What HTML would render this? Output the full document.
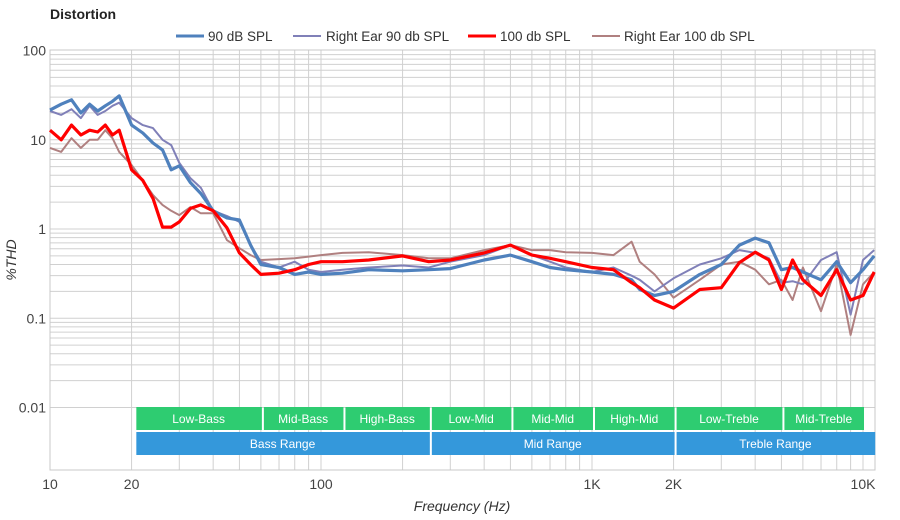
<!DOCTYPE html>
<html><head><meta charset="utf-8"><style>
body{margin:0;background:#fff;}
svg{display:block;font-family:"Liberation Sans",sans-serif;}
</style></head><body>
<svg id="chart" width="900" height="520"></svg>
<script>
const freqs=[10,11,12,13,14,15,16,17,18,20,22,24,26,28,30,33,36,40,45,50,55,60,70,80,90,100,120,150,200,250,300,400,500,600,700,800,1000,1200,1400,1500,1700,2000,2500,3000,3500,4000,4500,5000,5500,6000,7000,8000,9000,10000,11000];
const blue90=[21.5,25,28,20,25,21,24,27,31,14.6,11.9,9.2,7.7,4.6,5.1,3.3,2.5,1.6,1.33,1.26,0.66,0.40,0.37,0.31,0.33,0.31,0.32,0.35,0.34,0.35,0.36,0.45,0.51,0.43,0.37,0.35,0.33,0.31,0.27,0.21,0.18,0.20,0.31,0.40,0.66,0.79,0.70,0.35,0.37,0.33,0.27,0.43,0.25,0.35,0.5];
const right90=[21,19,22,17.5,24,19,21,24,26,17.5,14.6,13.5,10,8.7,5.5,3.7,2.9,1.6,1.4,1.2,0.66,0.43,0.37,0.43,0.35,0.33,0.35,0.37,0.39,0.37,0.43,0.51,0.66,0.51,0.43,0.37,0.33,0.37,0.30,0.27,0.20,0.28,0.40,0.47,0.58,0.54,0.47,0.25,0.26,0.24,0.45,0.55,0.11,0.45,0.58];
const red100=[12.8,10,14.6,11.3,12.8,12.2,14.6,11.3,12.8,4.6,3.5,2.2,1.05,1.05,1.2,1.7,1.86,1.6,1.03,0.54,0.40,0.31,0.32,0.35,0.40,0.43,0.43,0.45,0.5,0.43,0.45,0.54,0.66,0.51,0.47,0.43,0.37,0.35,0.25,0.22,0.16,0.13,0.21,0.22,0.42,0.55,0.45,0.21,0.45,0.27,0.18,0.35,0.16,0.18,0.33];
const right100=[8.1,7.3,10.4,8.1,10,10,12.8,10.4,7.3,5.2,3.5,2.4,1.86,1.6,1.43,1.76,1.5,1.5,0.75,0.61,0.51,0.45,0.46,0.47,0.49,0.51,0.54,0.55,0.51,0.47,0.47,0.58,0.66,0.58,0.58,0.55,0.54,0.51,0.72,0.43,0.31,0.17,0.27,0.40,0.43,0.35,0.24,0.27,0.16,0.37,0.12,0.40,0.065,0.24,0.33];
const yTicks=[100,10,1,0.1,0.01];
const yTickLabels=["100","10","1","0.1","0.01"];
const xTicks=[10,20,100,1000,2000,10000];
const xTickLabels=["10","20","100","1K","2K","10K"];
const bandNames=["Low-Bass","Mid-Bass","High-Bass","Low-Mid","Mid-Mid","High-Mid","Low-Treble","Mid-Treble"];
const bandStarts=[20.3,60,120,250,500,1000,2000,5000];
const bandEnds=[60,120,250,500,1000,2000,5000,10000];
const rangeNames=["Bass Range","Mid Range","Treble Range"];
const rangeStarts=[20.3,250,2000];
const rangeEnds=[250,2000,11000];

const NS="http://www.w3.org/2000/svg";
const svg=document.getElementById('chart');
const L=50,R=875,T=50,B=470;
const xS=f=>50+271*Math.log10(f/10);
const yS=v=>229-89.25*Math.log10(v);
function mk(tag,attrs,parent){const e=document.createElementNS(NS,tag);for(const k in attrs)e.setAttribute(k,attrs[k]);(parent||svg).appendChild(e);return e;}

const grid=mk('g',{});


for(let d=0.01;d<100;d*=10){for(let m=1;m<10;m++){const y=yS(d*m);mk('line',{x1:L,x2:R,y1:y,y2:y,stroke:'#d0d0d0','stroke-width':1},grid);}}
for(let d=10;d<=10000;d*=10){for(let m=1;m<10;m++){const f=d*m;if(f>11000)break;const x=xS(f);mk('line',{x1:x,x2:x,y1:T,y2:B,stroke:'#d0d0d0','stroke-width':1},grid);}}
mk('rect',{x:L,y:T,width:R-L,height:B-T,fill:'none',stroke:'#c8c8c8'},grid);

bandNames.forEach((n,i)=>{
 const x1=xS(bandStarts[i])+3,x2=xS(bandEnds[i]);
 const g=mk('g',{});
 
 
 mk('rect',{x:x1,y:407,width:x2-x1+1,height:23,fill:'#2ecc71'},g);
 const t=mk('text',{x:(x1+x2)/2,y:423,'text-anchor':'middle','font-size':12,fill:'#fff'},g);t.textContent=n;
});
rangeNames.forEach((n,i)=>{
 const x1=xS(rangeStarts[i])+3,x2=Math.min(xS(rangeEnds[i]),R);
 const g=mk('g',{});
 
 
 mk('rect',{x:x1,y:432,width:x2-x1+1,height:23,fill:'#3498db'},g);
 const t=mk('text',{x:(x1+x2)/2,y:448,'text-anchor':'middle','font-size':12,fill:'#fff'},g);t.textContent=n;
});

yTicks.forEach((v,i)=>{const t=mk('text',{x:46,y:yS(v)+5,'text-anchor':'end','font-size':14,fill:'#444'});


t.textContent=yTickLabels[i];});
xTicks.forEach((v,i)=>{const t=mk('text',{x:xS(v),y:489,'text-anchor':'middle','font-size':14,fill:'#444'});


t.textContent=xTickLabels[i];});

const series=[[right100,'#b08080',2,'right-ear-100db-line'],[right90,'#8080b8',2,'right-ear-90db-line'],[blue90,'#4f81bd',3.2,'90db-line'],[red100,'#ff0000',3.2,'100db-line']];
series.forEach(s=>{
 const d=s[0].map((v,i)=>(i?'L':'M')+xS(freqs[i]).toFixed(1)+','+yS(v).toFixed(1)).join('');
 const p=mk('path',{d:d,fill:'none',stroke:s[1],'stroke-width':s[2],'stroke-linejoin':'round'});
 
 
});
</script>
<svg width="900" height="520" style="position:absolute;left:0;top:0;font-family:'Liberation Sans',sans-serif">
<text x="50" y="19" font-size="14" font-weight="bold" fill="#222">Distortion</text>
<g font-size="13.5" fill="#333">
<g><line x1="176" x2="204" y1="36" y2="36" stroke="#4f81bd" stroke-width="3"/><text x="208" y="41">90 dB SPL</text></g>
<g><line x1="293" x2="321" y1="36" y2="36" stroke="#8080b8" stroke-width="2"/><text x="326" y="41">Right Ear 90 db SPL</text></g>
<g><line x1="468" x2="496" y1="36" y2="36" stroke="#ff0000" stroke-width="3"/><text x="500" y="41">100 db SPL</text></g>
<g><line x1="592" x2="620" y1="36" y2="36" stroke="#b08080" stroke-width="2"/><text x="624" y="41">Right Ear 100 db SPL</text></g>
</g>
<text x="462" y="511" font-size="14" font-style="italic" fill="#333" text-anchor="middle">Frequency (Hz)</text>
<text transform="translate(16,260) rotate(-90)" font-size="14" font-style="italic" fill="#333" text-anchor="middle">%THD</text>
</svg>
</body></html>
